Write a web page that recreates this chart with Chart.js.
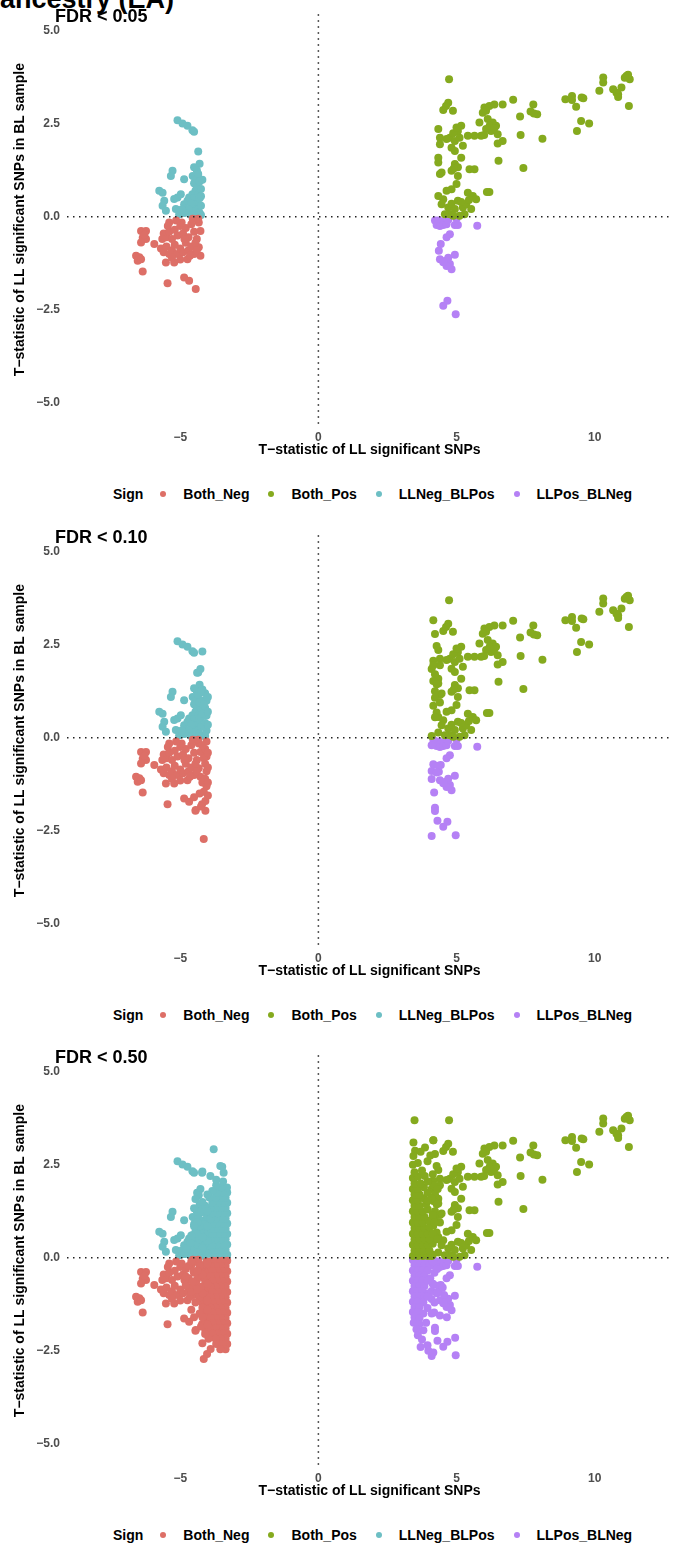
<!DOCTYPE html>
<html>
<head>
<meta charset="utf-8">
<script src="https://cdn.jsdelivr.net/npm/chart.js@4.4.1/dist/chart.umd.min.js"></script>
<style>
  body { margin: 0; width: 676px; height: 1547px; background: #fff; position: relative; overflow: hidden;
         font-family: "Liberation Sans", Arial, sans-serif; }
  .supertitle { position: absolute; left: 0; top: -14px; font-size: 27px; font-weight: bold; line-height: 26px; color: #000; white-space: nowrap; }
  .panel { position: absolute; left: 0; width: 676px; height: 520px; }
  .panel canvas { position: absolute; left: 0; top: 0; }
  .ptitle { position: absolute; left: 55px; top: 6px; font-size: 18px; font-weight: bold; line-height: 20px; color: #000; z-index: 2; }
  .legend { position: absolute; left: 113px; top: 485px; height: 18px; display: flex; align-items: center;
            font-size: 14px; font-weight: bold; color: #000; white-space: nowrap; }
  .legend .dot { width: 6px; height: 6px; border-radius: 50%; margin-right: 17px; }
  .legend .lab { margin-right: 19px; }
  .legend .head { margin-right: 17px; }
</style>
</head>
<body>
<div class="supertitle">ancestry (EA)</div>

<div class="panel" style="top:0px"><canvas id="c1" width="676" height="462"></canvas><div class="ptitle">FDR &lt; 0.05</div><div class="legend" id="l1"></div></div>
<div class="panel" style="top:521px"><canvas id="c2" width="676" height="462"></canvas><div class="ptitle">FDR &lt; 0.10</div><div class="legend" id="l2"></div></div>
<div class="panel" style="top:1041px"><canvas id="c3" width="676" height="462"></canvas><div class="ptitle">FDR &lt; 0.50</div><div class="legend" id="l3"></div></div>

<script>
// --- data --------------------------------------------------------------
const signLabels = ['Both_Neg', 'Both_Pos', 'LLNeg_BLPos', 'LLPos_BLNeg'];
const signColors = ['#DD6F67', '#85AA1E', '#6DBFC4', '#B581F5'];
const xTicks = [-5, 0, 5, 10];
const yTicks = [-5, -2.5, 0, 2.5, 5];

// FDR < 0.05
const bothNeg05 = [[-6.42,-0.38],[-6.24,-0.38],[-6.36,-0.56],[-6.24,-0.60],[-6.42,-0.69],[-6.30,-0.48],
  [-5.94,-0.73],[-6.60,-1.05],[-6.48,-1.09],[-6.54,-1.18],[-6.42,-1.14],[-6.36,-1.47],
  [-5.46,-1.79],[-4.86,-1.63],[-4.68,-1.72],[-4.44,-1.94],
  [-5.52,-1.23],[-5.22,-1.23],[-4.74,-1.14],[-4.27,-1.05],[-4.33,-0.82],[-4.27,-0.38],[-4.33,-0.15],[-5.40,-0.15],
  [-5.60,-0.45],[-5.50,-0.55],[-5.40,-0.40],[-5.30,-0.60],[-5.20,-0.35],[-5.10,-0.50],[-5.00,-0.25],[-4.90,-0.45],
  [-4.80,-0.30],[-4.70,-0.55],[-4.60,-0.20],[-4.50,-0.40],[-4.40,-0.60],
  [-5.70,-0.85],[-5.60,-0.95],[-5.50,-0.80],[-5.40,-1.00],[-5.30,-0.90],[-5.20,-0.75],[-5.10,-1.00],[-5.00,-0.85],
  [-4.90,-0.95],[-4.80,-0.70],[-4.70,-0.90],[-4.60,-0.80],[-4.50,-1.00],[-4.40,-0.90],
  [-5.30,-1.10],[-5.00,-1.15],[-4.85,-0.60],[-4.95,-0.15],[-5.15,-0.10],[-4.55,-0.05],[-4.35,-0.05],
  [-5.65,-0.60],[-5.45,-0.25],[-4.65,-1.05],[-4.45,-0.70]];
const bothPos05 = [[4.73,3.70],[4.70,3.07],[4.52,2.87],[4.87,2.85],[4.62,2.98],
  [6.01,2.94],[6.19,2.98],[6.37,3.02],[6.07,2.85],[5.95,2.80],
  [6.67,3.02],[7.05,3.15],[7.78,3.02],[7.30,2.70],[7.68,2.83],[7.92,2.76],[7.80,2.78],
  [8.94,3.16],[9.18,3.25],[9.18,3.14],[9.53,3.21],[9.59,3.19],[9.33,2.96],
  [9.51,2.58],[9.80,2.51],[9.36,2.31],
  [10.17,3.39],[10.31,3.75],[10.31,3.61],
  [10.67,3.43],[10.85,3.30],[10.97,3.48],[10.79,3.34],[10.85,3.22],
  [11.15,3.79],[11.27,3.70],[11.21,3.82],[11.09,3.74],[11.24,2.98],
  [7.32,2.20],[8.11,2.10],[6.52,1.51],[7.42,1.31],[6.19,0.67],[6.10,0.67],[5.47,1.28],[5.65,1.28],
  [5.83,2.54],[6.13,2.63],[6.31,2.54],[6.43,2.45],[6.25,2.31],[6.07,2.36],[6.49,2.22],[6.67,2.04],
  [5.89,2.18],[5.65,2.18],[5.41,2.18],[6.49,1.97],[6.20,2.45],[6.37,2.38],[6.00,2.20],
  [4.34,2.36],[4.40,2.13],[4.40,1.95],[4.76,2.13],[4.94,2.04],[5.11,2.13],[5.05,2.31],[5.17,2.45],
  [4.82,1.86],[4.94,1.77],[5.23,1.91],[4.64,2.09],[4.88,2.25],[5.00,2.40],
  [4.34,1.59],[4.34,1.46],[4.46,1.19],[4.40,1.15],[4.82,1.24],[4.94,1.42],[5.05,1.33],[5.17,1.59],
  [5.05,1.10],[5.00,0.88],[4.82,0.74],[4.64,0.70],[4.90,1.30],
  [4.34,0.56],[4.52,0.47],[4.46,0.34],[4.70,0.25],[4.76,0.07],[4.94,0.21],[5.05,0.43],[5.23,0.25],
  [5.35,0.34],[5.41,0.65],[5.59,0.56],[5.71,0.47],[5.53,0.21],[5.29,0.07],[5.11,0.03],[4.88,0.03],
  [4.58,0.07],[5.17,0.40],[4.82,0.35],[5.45,0.45]];
const llNegBlPos05 = [[-5.10,2.60],[-4.92,2.51],[-4.74,2.45],[-4.56,2.33],[-4.50,2.29],
  [-4.35,1.76],[-4.30,1.43],[-4.50,1.33],[-4.40,1.25],
  [-5.28,1.24],[-5.34,1.10],[-4.86,1.01],
  [-5.76,0.70],[-5.64,0.65],[-5.58,0.43],[-5.64,0.30],[-5.52,0.16],
  [-5.22,0.48],[-5.10,0.52],[-4.98,0.61],[-5.16,0.21],[-5.04,0.07],
  [-4.86,0.34],[-4.74,0.43],[-4.68,0.52],[-4.56,0.61],
  [-4.55,1.10],[-4.45,1.00],[-4.35,1.15],[-4.50,0.90],[-4.40,0.80],[-4.30,0.95],[-4.45,0.70],[-4.35,0.60],
  [-4.25,0.75],[-4.50,0.50],[-4.40,0.40],[-4.30,0.50],[-4.45,0.30],[-4.35,0.20],[-4.25,0.30],[-4.55,0.15],
  [-4.40,0.05],[-4.30,0.10],[-4.25,0.05],[-4.60,0.35],[-4.70,0.20],[-4.85,0.10],[-4.60,0.05],[-4.95,0.20],
  [-4.20,1.00],[-4.25,0.55]];
const llPosBlNeg05 = [[4.22,-0.10],[4.34,-0.10],[4.46,-0.12],[4.28,-0.22],[4.40,-0.25],[4.52,-0.22],[4.64,-0.20],
  [4.94,-0.22],[5.05,-0.22],[4.70,-0.08],[5.00,-0.05],
  [5.75,-0.24],[4.76,-0.47],[4.64,-0.55],[4.43,-0.73],[4.36,-0.91],
  [4.40,-1.14],[4.58,-1.19],[4.70,-1.10],[4.94,-1.02],[4.76,-1.27],[4.82,-1.41],[4.64,-1.32],[4.52,-1.22],
  [4.52,-2.39],[4.67,-2.26],[4.97,-2.62]];

// added at FDR < 0.10
const bothNeg10add = [[-4.05,-0.10],[-4.10,-0.30],[-4.05,-0.50],[-4.10,-0.70],[-4.05,-0.90],[-4.10,-1.10],
  [-4.05,-1.30],[-4.15,-1.45],[-4.09,-1.70],[-4.21,-1.79],[-4.09,-1.96],[-4.45,-1.96],[-4.15,-2.72],
  [-4.20,-0.20],[-4.15,-0.55],[-4.20,-1.20],[-4.30,-1.50],[-4.25,-1.85],[-4.50,-1.60],
  [-4.00,-0.40],[-4.00,-0.80],[-4.00,-1.20],[-4.00,-1.55]];
const bothPos10add = [[4.16,3.16],[4.22,2.79],[4.28,2.47],[4.16,2.07],[4.10,1.85],[4.22,1.71],[4.16,1.53],
  [4.28,1.44],[4.22,1.08],[4.16,0.86],[4.28,0.68],[4.22,0.55],[4.10,0.05],[4.34,0.14],[4.16,1.95],
  [4.22,1.25],[4.40,0.95]];
const llNegBlPos10add = [[-4.20,2.32],[-4.27,1.85],[-4.39,1.75],[-4.10,1.20],[-4.05,1.00],[-4.10,0.80],
  [-4.05,0.60],[-4.10,0.40],[-4.05,0.20],[-4.10,0.05],[-4.20,1.30],[-4.15,0.90],[-4.20,0.65],[-4.15,0.30],
  [-4.25,1.25],[-4.00,1.10],[-4.00,0.70],[-4.00,0.35]];
const llPosBlNeg10add = [[4.16,-0.71],[4.34,-0.75],[4.10,-0.89],[4.28,-0.93],[4.10,-1.11],[4.19,-1.47],
  [4.22,-1.88],[4.22,-1.97],[4.31,-2.23],[4.10,-2.64],[4.16,-0.05],[4.10,-0.20]];

// added at FDR < 0.50
const bothNeg50add = [[-3.30,-0.08],[-3.48,-0.08],[-3.66,-0.08],[-3.84,-0.08],[-4.42,-0.08],
  [-3.36,-0.22],[-3.54,-0.22],[-3.72,-0.22],[-3.90,-0.22],[-4.30,-0.22],[-4.70,-0.22],
  [-3.30,-0.36],[-3.48,-0.36],[-3.66,-0.36],[-3.84,-0.36],[-4.52,-0.36],
  [-3.36,-0.50],[-3.54,-0.50],[-3.72,-0.50],[-3.90,-0.50],[-4.35,-0.50],[-4.80,-0.50],
  [-3.30,-0.64],[-3.48,-0.64],[-3.66,-0.64],[-3.84,-0.64],[-4.55,-0.64],
  [-3.36,-0.78],[-3.54,-0.78],[-3.72,-0.78],[-3.90,-0.78],[-4.25,-0.78],
  [-3.30,-0.92],[-3.48,-0.92],[-3.66,-0.92],[-3.84,-0.92],[-4.60,-0.92],
  [-3.36,-1.06],[-3.54,-1.06],[-3.72,-1.06],[-3.90,-1.06],[-4.30,-1.06],
  [-3.30,-1.20],[-3.48,-1.20],[-3.66,-1.20],[-3.84,-1.20],[-4.45,-1.20],
  [-3.36,-1.34],[-3.54,-1.34],[-3.72,-1.34],[-3.90,-1.34],[-4.20,-1.34],
  [-3.30,-1.48],[-3.48,-1.48],[-3.66,-1.48],[-3.84,-1.48],
  [-3.36,-1.62],[-3.54,-1.62],[-3.72,-1.62],[-3.90,-1.62],
  [-3.30,-1.76],[-3.48,-1.76],[-3.66,-1.76],[-3.84,-1.76],
  [-3.36,-1.90],[-3.54,-1.90],[-3.72,-1.90],[-3.95,-1.90],
  [-3.30,-2.04],[-3.48,-2.04],[-3.66,-2.04],[-3.84,-2.04],
  [-3.36,-2.18],[-3.54,-2.18],[-3.72,-2.18],[-3.98,-2.18],
  [-3.30,-2.32],[-3.48,-2.32],[-3.70,-2.32],
  [-3.36,-2.46],[-3.55,-2.46],[-3.90,-2.45],[-4.03,-2.59],
  [-4.02,-0.15],[-4.20,-0.45],[-4.02,-0.70],[-4.20,-0.95],[-4.02,-1.15],[-4.38,-0.35],[-4.38,-0.85],
  [-4.60,-1.40],[-4.02,-1.40],[-4.20,-1.60],[-4.02,-1.80],[-4.10,-2.05],[-4.20,-2.30],[-4.60,-0.10],[-4.80,-0.75]];
const bothPos50add = [[3.48,3.70],[3.44,3.10],[4.16,3.16],[3.86,2.97],[3.50,2.88],[3.44,2.74],[3.70,2.85],
  [3.95,2.60],[3.60,2.55],[3.42,2.50],[4.05,2.75],
  [3.42,0.05],[3.60,0.05],[3.78,0.05],[3.96,0.05],[4.14,0.08],
  [3.48,0.20],[3.66,0.20],[3.84,0.20],[4.02,0.20],
  [3.42,0.35],[3.60,0.35],[3.78,0.35],[3.96,0.35],[4.14,0.38],
  [3.48,0.50],[3.66,0.50],[3.84,0.50],[4.02,0.50],
  [3.42,0.65],[3.60,0.65],[3.78,0.65],[3.96,0.65],
  [3.48,0.80],[3.66,0.80],[3.84,0.80],[4.02,0.82],
  [3.42,0.95],[3.60,0.95],[3.78,0.95],[4.00,1.00],
  [3.48,1.10],[3.66,1.10],[3.84,1.10],
  [3.42,1.25],[3.60,1.25],[3.78,1.25],[3.96,1.30],
  [3.48,1.40],[3.66,1.40],[3.90,1.45],
  [3.42,1.55],[3.60,1.55],[3.80,1.60],
  [3.48,1.70],[3.66,1.70],[3.95,1.75],
  [3.42,1.85],[3.60,1.85],[3.82,1.90],
  [3.48,2.00],[3.70,2.00],
  [3.42,2.15],[3.60,2.18],[3.85,2.20],
  [3.48,2.30],[3.75,2.35],
  [4.14,0.65],[4.20,0.95],[4.14,1.15],[4.10,1.60],[3.96,2.05],[4.14,2.25],[4.32,1.85],[4.30,0.50],[3.96,1.55]];
const llNegBlPos50add = [[-3.30,0.08],[-3.48,0.08],[-3.66,0.08],[-3.84,0.08],[-4.30,0.08],[-4.65,0.08],[-4.85,0.10],
  [-3.36,0.22],[-3.54,0.22],[-3.72,0.22],[-3.90,0.22],[-4.50,0.22],[-4.78,0.25],
  [-3.30,0.36],[-3.48,0.36],[-3.66,0.36],[-3.84,0.36],[-4.40,0.36],[-4.62,0.40],
  [-3.36,0.50],[-3.54,0.50],[-3.72,0.50],[-3.90,0.50],[-4.30,0.50],
  [-3.30,0.64],[-3.48,0.64],[-3.66,0.64],[-3.84,0.64],[-4.40,0.64],
  [-3.36,0.78],[-3.54,0.78],[-3.72,0.78],[-3.90,0.78],[-4.30,0.85],
  [-3.30,0.92],[-3.48,0.92],[-3.66,0.92],[-3.84,0.92],
  [-3.36,1.06],[-3.54,1.06],[-3.72,1.06],[-3.90,1.06],[-4.35,1.05],
  [-3.30,1.20],[-3.48,1.20],[-3.66,1.20],[-3.84,1.20],
  [-3.36,1.34],[-3.54,1.34],[-3.72,1.34],[-3.90,1.34],[-4.10,1.40],
  [-3.30,1.48],[-3.48,1.48],[-3.66,1.48],[-3.84,1.48],
  [-3.36,1.62],[-3.54,1.62],[-3.72,1.62],[-3.95,1.62],
  [-3.30,1.76],[-3.48,1.76],[-3.66,1.76],[-3.84,1.80],
  [-3.31,1.89],[-3.50,1.90],[-3.70,1.95],
  [-3.79,2.92],[-3.55,2.47],[-3.43,2.29],[-3.48,2.45],[-4.21,2.29],[-3.91,2.20],[-4.33,1.68],[-4.45,1.58],
  [-3.70,2.10],[-3.45,2.05],
  [-4.02,0.12],[-4.20,0.25],[-4.02,0.45],[-4.20,0.55],[-4.02,0.85],[-4.38,0.15],[-4.38,0.95],[-4.02,1.25],
  [-4.20,1.50],[-4.02,1.70],[-4.60,0.60],[-4.50,0.85]];
const llPosBlNeg50add = [[3.42,-0.06],[3.60,-0.06],[3.78,-0.06],[3.96,-0.06],
  [3.48,-0.20],[3.66,-0.20],[3.84,-0.20],[4.02,-0.20],
  [3.42,-0.34],[3.60,-0.34],[3.78,-0.34],[3.96,-0.34],[4.20,-0.40],
  [3.48,-0.48],[3.66,-0.48],[3.84,-0.48],[4.05,-0.55],
  [3.42,-0.62],[3.60,-0.62],[3.78,-0.62],
  [3.48,-0.76],[3.66,-0.76],[3.84,-0.76],[4.50,-0.80],
  [3.42,-0.90],[3.60,-0.90],[3.78,-0.90],[4.00,-0.95],
  [3.48,-1.04],[3.66,-1.04],[3.84,-1.04],[4.55,-1.00],
  [3.42,-1.18],[3.60,-1.18],[3.80,-1.20],
  [3.48,-1.32],[3.66,-1.32],[3.95,-1.35],
  [3.42,-1.46],[3.60,-1.46],[3.80,-1.50],[4.40,-1.55],[4.65,-1.60],
  [3.48,-1.60],[3.66,-1.62],
  [3.45,-1.75],[3.65,-1.78],[3.90,-1.75],
  [3.55,-1.92],[3.80,-1.95],
  [3.60,-2.08],[3.75,-2.20],[3.95,-2.35],[3.70,-2.40],[3.98,-2.50],[4.16,-2.55],[4.95,-2.15],
  [4.14,-0.10],[4.14,-0.70],[3.96,-0.62],[4.20,-1.20],[3.96,-1.05],[4.10,-1.50],[4.30,-0.30],[4.30,-0.95]];

// ------------------------------------------------------------------------
const FONT = '"Liberation Sans", Arial, sans-serif';
const minus = (v, d) => (v < 0 ? '\u2212' : '') + Math.abs(v).toFixed(d);

const zeroLines = {
  id: 'zeroLines',
  afterDatasetsDraw(chart) {
    const { ctx, chartArea: a, scales: { x, y } } = chart;
    const px = x.getPixelForValue(0), py = y.getPixelForValue(0);
    ctx.save();
    ctx.strokeStyle = '#222';
    ctx.lineWidth = 1.5;
    ctx.setLineDash([1.5, 4.5]);
    ctx.beginPath();
    ctx.moveTo(px, a.top); ctx.lineTo(px, a.bottom);
    ctx.moveTo(a.left, py); ctx.lineTo(a.right, py);
    ctx.stroke();
    ctx.restore();
  }
};

function toPts(arr) { return arr.map(p => ({ x: p[0], y: p[1] })); }

function makePanel(id, groups) {
  new Chart(document.getElementById(id), {
    type: 'scatter',
    data: {
      datasets: groups.map((g, i) => ({
        label: signLabels[i], data: toPts(g),
        backgroundColor: signColors[i], borderColor: signColors[i],
        borderWidth: 0, pointRadius: 4, pointHoverRadius: 4
      }))
    },
    options: {
      responsive: false, animation: false, events: [],
      layout: { padding: { top: 13, right: 0, bottom: 0, left: 12 } },
      plugins: { legend: { display: false }, tooltip: { enabled: false } },
      scales: {
        x: {
          type: 'linear', min: -9.1, max: 12.8,
          grid: { display: false, drawTicks: false, tickLength: 0 }, border: { display: false },
          afterBuildTicks: s => { s.ticks = xTicks.map(v => ({ value: v })); },
          afterFit: s => { s.height = 37; },
          ticks: { color: '#4d4d4d', font: { family: FONT, size: 12, weight: 'bold' }, padding: 5,
                   maxRotation: 0, autoSkip: false, callback: v => minus(v, 0) },
          title: { display: true, text: 'T\u2212statistic of LL significant SNPs', color: '#000',
                   font: { family: FONT, size: 14, weight: 'bold' }, padding: { top: 0, bottom: 3 } }
        },
        y: {
          type: 'linear', min: -5.6, max: 5.45,
          grid: { display: false, drawTicks: false, tickLength: 0 }, border: { display: false },
          afterBuildTicks: s => { s.ticks = yTicks.map(v => ({ value: v })); },
          afterFit: s => { s.width = 55; },
          ticks: { color: '#4d4d4d', font: { family: FONT, size: 12, weight: 'bold' }, padding: 7,
                   autoSkip: false, callback: v => minus(v, 1) },
          title: { display: true, text: 'T\u2212statistic of LL significant SNPs in BL sample', color: '#000',
                   font: { family: FONT, size: 14, weight: 'bold' }, padding: { top: 0, bottom: 0 } }
        }
      }
    },
    plugins: [zeroLines]
  });
}

function makeLegend(id) {
  const el = document.getElementById(id);
  let html = '<span class="head">Sign</span>';
  signLabels.forEach((l, i) => {
    html += '<span class="dot" style="background:' + signColors[i] + '"></span><span class="lab">' + l + '</span>';
  });
  el.innerHTML = html;
}

makePanel('c1', [bothNeg05, bothPos05, llNegBlPos05, llPosBlNeg05]);
makePanel('c2', [bothNeg05.concat(bothNeg10add), bothPos05.concat(bothPos10add),
                 llNegBlPos05.concat(llNegBlPos10add), llPosBlNeg05.concat(llPosBlNeg10add)]);
makePanel('c3', [bothNeg05.concat(bothNeg10add, bothNeg50add), bothPos05.concat(bothPos10add, bothPos50add),
                 llNegBlPos05.concat(llNegBlPos10add, llNegBlPos50add), llPosBlNeg05.concat(llPosBlNeg10add, llPosBlNeg50add)]);
['l1', 'l2', 'l3'].forEach(makeLegend);
</script>
</body>
</html>
